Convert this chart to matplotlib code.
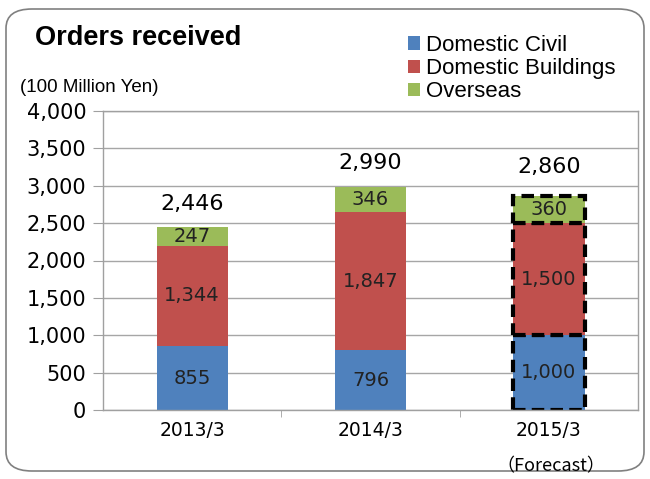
import matplotlib
matplotlib.use("Agg")
import matplotlib.pyplot as plt
from matplotlib.patches import FancyBboxPatch
import numpy as np

categories = ["2013/3", "2014/3", "2015/3"]
domestic_civil = [855, 796, 1000]
domestic_buildings = [1344, 1847, 1500]
overseas = [247, 346, 360]
totals = [2446, 2990, 2860]
series_names = ["Domestic Civil", "Domestic Buildings", "Overseas"]
colors = ["#4F81BD", "#C0504D", "#9BBB59"]

num = ["DejaVu Sans"]
jp = ["Noto Sans CJK JP", "DejaVu Sans"]
plt.rcParams['font.family'] = jp

fig = plt.figure(figsize=(6.5, 4.79), dpi=100)
# rounded frame
frame = FancyBboxPatch((6/650, 8/479), 638/650, 462/479,
                       boxstyle="round,pad=0,rounding_size=0.04",
                       transform=fig.transFigure, facecolor="white",
                       edgecolor="#808080", linewidth=1.2, zorder=-10)
fig.patches.append(frame)

ax = fig.add_axes([103/650, 1 - 410/479, 535/650, 299/479])
ax.set_facecolor("none")
x = np.arange(len(categories))
w = 0.4
series = [domestic_civil, domestic_buildings, overseas]
bottom = np.zeros(len(categories))
for i, (vals, c, name) in enumerate(zip(series, colors, series_names)):
    vals = np.array(vals, dtype=float)
    bars = ax.bar(x, vals, w, bottom=bottom, color=c, label=name, zorder=2)
    for j, b in enumerate(bars):
        if j == 2:
            b.set_edgecolor("black")
            b.set_linewidth(3)
            b.set_linestyle((0, (3, 1.5)))
        ax.text(x[j], bottom[j] + vals[j] / 2, f"{int(vals[j]):,}",
                ha="center", va="center", fontsize=14, color="#222222",
                family=num, zorder=4)
    bottom += vals

for j, t in enumerate(totals):
    extra = 80 if j == 2 else 0
    ax.text(x[j], t + 235 + extra, f"{t:,}", ha="center", va="baseline",
            fontsize=16, color="black", family=num, zorder=4)

ax.set_xlim(-0.5, 2.5)
ax.set_ylim(0, 4000)
ax.set_yticks(np.arange(0, 4001, 500))
ax.set_yticklabels([f"{v:,}" for v in range(0, 4001, 500)], fontsize=15, family=num)
ax.yaxis.grid(True, color="#A6A6A6", linewidth=1, zorder=0)
ax.set_axisbelow(True)
ax.set_xticks(x)
ax.set_xticklabels(categories, fontsize=13.5, family=num)
ax.set_xticks([0.5, 1.5], minor=True)
ax.tick_params(axis="x", which="major", length=0, pad=8)
ax.tick_params(axis="x", which="minor", length=5, color="#A0A0A0", direction="out")
ax.tick_params(axis="y", length=7, color="#A0A0A0", direction="out", pad=5)
for s in ax.spines.values():
    s.set_color("#A0A0A0")
    s.set_linewidth(1)

fig.text(35/650, 1 - 38/479, "Orders received", fontsize=19.5, fontweight="bold",
         family="Liberation Sans", va="center", ha="left")
fig.text(20/650, 1 - 88/479, "(100 Million Yen)", fontsize=13.5,
         family="Liberation Sans", va="center", ha="left")
fig.text(551/650, 1 - 466/479, "（Forecast）", fontsize=13, va="center", ha="center")

leg = fig.legend(loc="upper left", bbox_to_anchor=(408/650, 1 - 35/479),
                 frameon=False, prop={"family": "Liberation Sans", "size": 16},
                 handlelength=0.55, handleheight=0.55, handletextpad=0.25,
                 labelspacing=0.1, borderaxespad=0, borderpad=0)

fig.savefig("out.png", dpi=100)
